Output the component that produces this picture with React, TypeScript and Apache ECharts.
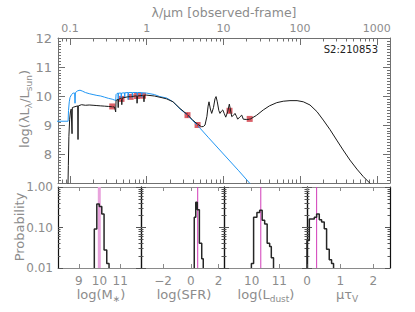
import React, { useEffect, useRef } from 'react';
import * as echarts from 'echarts';

// ---------- data (log10 of wavelength in micron, log10 luminosity) ----------
const blackLogLambda = [-1.03, -1.022, -1.015, -1.005, -0.995, -0.985, -0.978, -0.974, -0.97, -0.95, -0.9, -0.896, -0.892, -0.85, -0.8, -0.75, -0.7, -0.65, -0.6, -0.55, -0.5, -0.45, -0.42, -0.405, -0.4, -0.39, -0.375, -0.372, -0.369, -0.34, -0.33, -0.325, -0.32, -0.25, -0.2, -0.15, -0.13, -0.126, -0.12, -0.05, -0.04, -0.036, -0.03, 0.0, 0.1, 0.2, 0.26, 0.343, 0.434, 0.52, 0.6, 0.643, 0.695, 0.717, 0.74, 0.76, 0.785, 0.8, 0.812, 0.83, 0.847, 0.87, 0.89, 0.904, 0.92, 0.94, 0.955, 0.975, 0.991, 1.01, 1.03, 1.055, 1.077, 1.09, 1.108, 1.13, 1.151, 1.17, 1.186, 1.215, 1.239, 1.259, 1.3, 1.347, 1.43, 1.52, 1.6, 1.695, 1.78, 1.868, 1.96, 2.042, 2.129, 2.22, 2.302, 2.39, 2.477, 2.56, 2.65, 2.74, 2.824, 2.911, 2.95];
const blackLogL = [6.5, 7.6, 8.6, 9.2, 9.45, 9.55, 9.56, 8.7, 9.6, 9.62, 9.66, 8.5, 9.66, 9.7, 9.68, 9.69, 9.68, 9.67, 9.66, 9.65, 9.64, 9.63, 9.62, 9.45, 9.85, 9.86, 9.88, 9.6, 9.88, 9.92, 9.93, 9.7, 9.93, 9.97, 9.98, 10.0, 10.0, 9.75, 10.0, 10.02, 10.02, 9.8, 10.03, 10.03, 10.0, 9.94, 9.9, 9.8, 9.57, 9.38, 9.17, 9.07, 8.97, 8.94, 8.95, 9.0, 9.3, 9.65, 9.8, 9.55, 9.4, 9.6, 9.9, 9.98, 9.8, 9.5, 9.4, 9.48, 9.52, 9.4, 9.27, 9.45, 9.72, 9.55, 9.29, 9.33, 9.4, 9.3, 9.2, 9.28, 9.34, 9.2, 9.19, 9.2, 9.33, 9.52, 9.66, 9.77, 9.82, 9.84, 9.84, 9.8, 9.69, 9.46, 9.17, 8.84, 8.48, 8.14, 7.79, 7.48, 7.22, 6.99, 6.85];

const blueLogLambda = [-1.17, -1.025, -1.02, -1.01, -1.0, -0.98, -0.96, -0.94, -0.935, -0.93, -0.9, -0.87, -0.84, -0.8, -0.75, -0.7, -0.65, -0.6, -0.55, -0.5, -0.45, -0.42, -0.405, -0.4, -0.39, -0.375, -0.372, -0.369, -0.335, -0.332, -0.329, -0.29, -0.287, -0.284, -0.244, -0.241, -0.238, -0.19, -0.187, -0.184, -0.126, -0.123, -0.12, -0.068, -0.065, -0.062, 0.0, 0.1, 0.17, 0.26, 0.343, 0.434, 0.52, 0.6, 0.665, 0.8, 1.0, 1.2, 1.347, 1.37];
const blueLogL = [9.13, 9.13, 9.5, 9.8, 9.95, 10.05, 10.1, 10.1, 9.75, 10.12, 10.18, 10.2, 10.17, 10.12, 10.08, 10.05, 10.02, 10.0, 9.96, 9.92, 9.89, 9.86, 9.84, 10.05, 10.08, 10.1, 9.85, 10.1, 10.1, 9.9, 10.1, 10.11, 9.95, 10.11, 10.12, 9.88, 10.12, 10.12, 9.95, 10.12, 10.12, 9.92, 10.12, 10.12, 9.96, 10.11, 10.1, 10.05, 9.98, 9.93, 9.8, 9.55, 9.37, 9.15, 8.98, 8.58, 8.0, 7.42, 6.98, 6.9];

const photLambda = [0.355, 0.469, 0.617, 0.748, 0.893, 3.4, 4.6, 12, 22];
const photLogL = [9.64, 9.9, 9.97, 10.0, 10.01, 9.34, 9.0, 9.49, 9.21];
const photErr = [0.02, 0.02, 0.02, 0.02, 0.02, 0.08, 0.04, 0.08, 0.03];

const topTickLabels = ['0.1', '1', '10', '100', '1000'];

// histograms: bin edges and probabilities
const massEdges = [9.75, 9.87, 9.99, 10.11, 10.22, 10.35, 10.46];
const massProb = [0.092, 0.38, 0.33, 0.215, 0.028, 0.013];
const sfrEdges = [0.25, 0.36, 0.47, 0.62, 0.79, 0.9];
const sfrProb = [0.178, 0.42, 0.275, 0.041, 0.017];
const ldustEdges = [9.99, 10.07, 10.19, 10.29, 10.38, 10.47, 10.56, 10.65, 10.71, 10.79];
const ldustProb = [0.013, 0.178, 0.236, 0.265, 0.15, 0.122, 0.041, 0.034, 0.018];
const tauEdges = [0, 0.07, 0.14, 0.22, 0.29, 0.37, 0.44, 0.52, 0.59, 0.67, 0.74, 0.8];
const tauProb = [0.048, 0.162, 0.162, 0.18, 0.215, 0.155, 0.137, 0.093, 0.029, 0.016, 0.013];
const bestFit = [9.99, 0.5, 10.33, 0.29];
const histRanges = [[8, 12], [-3.6, 2.4], [9, 12], [0, 2.5]];
const histTickLabels = [[9, 10, 11], [-2, 0, 2], [10, 11], [0, 1, 2]];
const probTicks = [0.01, 0.1, 1];

// ---------- layout ----------
const X_MIN = -1.157;
const X_MAX = 3.172;
const FONT = 'DejaVu Sans';
const LABEL = '#8c8c8c';
const FRAME = '#707070';
const TOP = { left: 58, top: 38, width: 332, height: 145 };
const HIST_TOP = 187;
const HIST_H = 81;
const HIST_LEFTS = [58, 141, 224, 307];
const HIST_W = 83;

const majorX = [-1, 0, 1, 2, 3];
const minorX: number[] = [];
for (let n = -2; n <= 3; n++) {
  for (let k = 2; k <= 9; k++) {
    const v = n + Math.log10(k);
    if (v > X_MIN && v < X_MAX) minorX.push(v);
  }
}
const majorP = probTicks.map((p) => Math.log10(p));
const minorP: number[] = [];
for (let n = -2; n <= -1; n++) {
  for (let k = 2; k <= 9; k++) minorP.push(n + Math.log10(k));
}

function stepData(edges: number[], probs: number[]) {
  const pts: number[][] = [[edges[0], -2]];
  probs.forEach((p, i) => {
    const lp = Math.max(-2, Math.log10(p));
    pts.push([edges[i], lp]);
    pts.push([edges[i + 1], lp]);
  });
  pts.push([edges[edges.length - 1], -2]);
  return pts;
}

function buildOption() {
  const xAxis: any[] = [];
  const yAxis: any[] = [];
  const tickLine = (color: string) => ({ lineStyle: { color, width: 1 } });

  const xBase = (pos: string, ticks: number[], len: number, lineShow: boolean, labels: boolean) => ({
    type: 'value', gridIndex: 0, position: pos, min: X_MIN, max: X_MAX,
    axisLine: { show: lineShow, onZero: false, lineStyle: { color: FRAME, width: 1 } },
    axisTick: { show: true, inside: true, length: len, customValues: ticks, ...tickLine(FRAME) },
    axisLabel: labels
      ? { show: true, customValues: majorX, formatter: (v: number) => topTickLabels[Math.round(v) + 1],
          color: LABEL, fontSize: 11, fontFamily: FONT, margin: 4 }
      : { show: false },
    splitLine: { show: false },
  });
  xAxis.push(xBase('bottom', majorX, 7, true, false));
  xAxis.push(xBase('top', majorX, 7, true, true));
  xAxis.push(xBase('bottom', minorX, 3.5, false, false));
  xAxis.push(xBase('top', minorX, 3.5, false, false));

  const yTop = (pos: string, labels: boolean) => ({
    type: 'value', gridIndex: 0, position: pos, min: 7, max: 12, interval: 1,
    axisLine: { show: true, onZero: false, lineStyle: { color: FRAME, width: 1 } },
    axisTick: { show: true, inside: true, length: 7, ...tickLine(FRAME) },
    minorTick: { show: true, splitNumber: 10, length: 3, lineStyle: { color: FRAME, width: 1 } },
    axisLabel: labels
      ? { show: true, color: LABEL, fontSize: 13, fontFamily: FONT, margin: 6, padding: [6, 0, 0, 0],
          formatter: (v: number) => (v === 7 ? '' : String(v)) }
      : { show: false },
    splitLine: { show: false },
  });
  yAxis.push(yTop('left', true));
  yAxis.push(yTop('right', false));

  const grids: any[] = [{ ...TOP, containLabel: false, outerBoundsMode: 'none' }];
  HIST_LEFTS.forEach((l, i) => {
    grids.push({ left: l, top: HIST_TOP, width: HIST_W, height: HIST_H, containLabel: false, outerBoundsMode: 'none' });
    const g = i + 1;
    const [mn, mx] = histRanges[i];
    const lbls = histTickLabels[i];
    xAxis.push({
      type: 'value', gridIndex: g, position: 'bottom', min: mn, max: mx,
      axisLine: { show: true, onZero: false, lineStyle: { color: '#8a8a8a', width: 1 } },
      axisTick: { show: true, inside: true, length: 4, customValues: lbls, ...tickLine('#8a8a8a') },
      axisLabel: { show: true, customValues: lbls, color: LABEL, fontSize: 12, fontFamily: FONT, margin: 7,
        formatter: (v: number) => String(v).replace('-', '\u2212') },
      splitLine: { show: false },
    });
    xAxis.push({
      type: 'value', gridIndex: g, position: 'top', min: mn, max: mx,
      axisLine: { show: true, onZero: false, lineStyle: { color: '#8a8a8a', width: 1 } },
      axisTick: { show: true, inside: true, length: 4, customValues: lbls, ...tickLine('#8a8a8a') },
      axisLabel: { show: false },
      splitLine: { show: false },
    });
    const yH = (pos: string, ticks: number[], len: number, lineShow: boolean, labels: boolean) => ({
      type: 'value', gridIndex: g, position: pos, min: -2, max: 0,
      axisLine: { show: lineShow, onZero: false, lineStyle: { color: '#111', width: 1.2 } },
      axisTick: { show: true, inside: true, length: len, customValues: ticks, ...tickLine('#555') },
      axisLabel: labels
        ? { show: true, customValues: majorP, color: LABEL, fontSize: 12, fontFamily: FONT, margin: 5,
            formatter: (v: number) => Math.pow(10, v).toFixed(2) }
        : { show: false },
      splitLine: { show: false },
    });
    yAxis.push(yH('left', majorP, 5, true, i === 0));
    yAxis.push(yH('left', minorP, 2.5, false, false));
    yAxis.push(yH('right', majorP, 5, true, false));
    yAxis.push(yH('right', minorP, 2.5, false, false));
  });

  const series: any[] = [];
  series.push({
    type: 'line', xAxisIndex: 0, yAxisIndex: 0, symbol: 'none', silent: true,
    data: blueLogLambda.map((x, i) => [x, blueLogL[i]]),
    lineStyle: { color: '#2196f3', width: 1 },
  });
  series.push({
    type: 'line', xAxisIndex: 0, yAxisIndex: 0, symbol: 'none', silent: true,
    data: blackLogLambda.map((x, i) => [x, blackLogL[i]]),
    lineStyle: { color: '#1a1a1a', width: 1 },
  });
  photLambda.forEach((lam, i) => {
    const lx = Math.log10(lam);
    series.push({
      type: 'line', xAxisIndex: 0, yAxisIndex: 0, symbol: 'none', silent: true,
      data: [[lx, photLogL[i] - photErr[i]], [lx, photLogL[i] + photErr[i]]],
      lineStyle: { color: '#c0303a', width: 1 },
    });
  });
  series.push({
    type: 'scatter', xAxisIndex: 0, yAxisIndex: 0, symbol: 'rect', symbolSize: 6, silent: true,
    data: photLambda.map((lam, i) => [Math.log10(lam), photLogL[i]]),
    itemStyle: { color: '#d03a44' },
  });

  const hists = [[massEdges, massProb], [sfrEdges, sfrProb], [ldustEdges, ldustProb], [tauEdges, tauProb]];
  hists.forEach(([edges, probs], i) => {
    series.push({
      type: 'line', xAxisIndex: 4 + 2 * i, yAxisIndex: 2 + 4 * i, symbol: 'none', silent: true,
      data: [[bestFit[i], -2], [bestFit[i], 0]],
      lineStyle: i === 0 ? { color: '#e8a3dc', width: 3 } : { color: '#d23cb8', width: 1 },
    });
    series.push({
      type: 'line', xAxisIndex: 4 + 2 * i, yAxisIndex: 2 + 4 * i, symbol: 'none', silent: true,
      data: stepData(edges as number[], probs as number[]),
      lineStyle: { color: '#262626', width: 1.5 },
    });
  });

  const a = { fontSize: 13, fontFamily: FONT, fill: LABEL, lineHeight: 18, verticalAlign: 'middle' };
  const s = { fontSize: 9, fontFamily: FONT, fill: LABEL, lineHeight: 18, verticalAlign: 'bottom' };
  const graphic: any[] = [
    { type: 'text', x: 224, y: 12, style: { text: 'λ/μm [observed-frame]', fill: LABEL, fontSize: 12.5, fontFamily: FONT, align: 'center', verticalAlign: 'middle' } },
    { type: 'text', x: 378, y: 49, style: { text: 'S2:210853', fill: '#222', fontSize: 10, fontFamily: FONT, align: 'right', verticalAlign: 'middle' } },
    { type: 'text', x: 24, y: 109, rotation: Math.PI / 2, style: { text: '{a|log(λL}{s|λ}{a|/L}{s|sun}{a|)}', rich: { a, s }, align: 'center', verticalAlign: 'middle' } },
    { type: 'text', x: 19, y: 227, rotation: Math.PI / 2, style: { text: 'Probability', fill: LABEL, fontSize: 13, fontFamily: FONT, align: 'center', verticalAlign: 'middle' } },
    { type: 'text', x: 101, y: 294, style: { text: '{a|log(M}{s|∗}{a|)}', rich: { a, s }, align: 'center', verticalAlign: 'middle' } },
    { type: 'text', x: 184, y: 294, style: { text: '{a|log(SFR)}', rich: { a, s }, align: 'center', verticalAlign: 'middle' } },
    { type: 'text', x: 266, y: 294, style: { text: '{a|log(L}{s|dust}{a|)}', rich: { a, s }, align: 'center', verticalAlign: 'middle' } },
    { type: 'text', x: 347, y: 294, style: { text: '{a|μτ}{s|V}', rich: { a, s }, align: 'center', verticalAlign: 'middle' } },
  ];

  return { animation: false, backgroundColor: '#fff', grid: grids, xAxis, yAxis, series, graphic };
}

export default function App() {
  const ref = useRef<HTMLDivElement>(null);
  useEffect(() => {
    document.body.style.margin = '0';
    if (!ref.current) return;
    const chart = echarts.init(ref.current, undefined, { renderer: 'svg' });
    chart.setOption(buildOption() as any);
    return () => chart.dispose();
  }, []);
  return <div ref={ref} style={{ width: 415, height: 312 }} />;
}
